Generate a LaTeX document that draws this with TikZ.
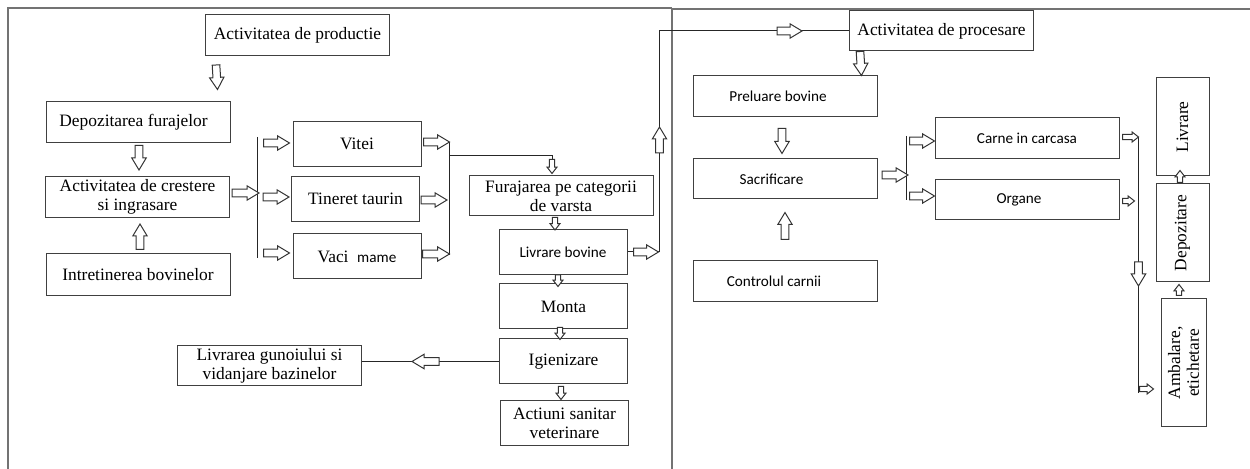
\documentclass[tikz,border=0pt]{standalone}
\usepackage{fontspec}
\setmainfont{Liberation Serif}
\newfontfamily\calibri{Carlito}
\usetikzlibrary{calc}

\tikzset{
  box/.style={draw=black!75, line width=0.5pt, inner sep=0.5pt, align=center,
    font=\fontsize{8.7}{9.4}\selectfont},
  sbox/.style={box, font=\calibri\fontsize{7.6}{9}\selectfont},
  wide/.style={minimum width=92pt, minimum height=20.5pt},
  narrow/.style={minimum width=64pt, minimum height=22.5pt},
  conn/.style={draw=black!85, line width=0.5pt},
  frame/.style={draw=black!55, line width=0.8pt},
  hollow/.style={draw=black!80, fill=white, line width=0.5pt, line join=miter},
  bigarr/.code={\def\shaftw{1.9pt}\def\headw{3.6pt}\def\headl{6pt}},
  smallarr/.code={\def\shaftw{1.3pt}\def\headw{2.5pt}\def\headl{3.2pt}},
}

% hollow block arrow from #2 to #3
\newcommand{\harrow}[3][bigarr]{%
  \draw[hollow,#1] let \p1=(#2), \p2=(#3),
      \n1={atan2(\y2-\y1,\x2-\x1)}, \n2={veclen(\x2-\x1,\y2-\y1)} in
    ($(\p1)+(\n1+90:\shaftw)$) -- ($(\p1)+(\n1:\n2-\headl)+(\n1+90:\shaftw)$)
    -- ($(\p1)+(\n1:\n2-\headl)+(\n1+90:\headw)$) -- (\p2)
    -- ($(\p1)+(\n1:\n2-\headl)+(\n1-90:\headw)$)
    -- ($(\p1)+(\n1:\n2-\headl)+(\n1-90:\shaftw)$)
    -- ($(\p1)+(\n1-90:\shaftw)$) -- cycle;}

\begin{document}
\begin{tikzpicture}[x=0.5pt, y=-0.5pt]
\useasboundingbox (0,0) rectangle (1250,469);

% frame
\draw[frame] (8,469) -- (8,8) -- (672,8);
\draw[frame] (672,469) -- (672,8);
\draw[frame] (672,9) -- (1250,9);

% production side
\node[box,wide] (prod) at (297.5,35) {Activitatea de productie};
\node[box,wide] (dep) at (138,122.5) {Depozitarea furajelor\hspace{4.5pt}};
\node[box,wide] (crest) at (137.5,197) {Activitatea de crestere\\si ingrasare};
\node[box,wide,minimum height=21pt] (intr) at (138,275) {Intretinerea bovinelor};
\node[box,narrow] (vitei) at (357,144) {Vitei};
\node[box,narrow] (tineret) at (355.5,199) {Tineret taurin};
\node[box,narrow] (vaci) at (357,256.5) {Vaci\ \ {\calibri\fontsize{7.6}{9}\selectfont mame}};
\node[box,wide,minimum height=20pt] (fur) at (561,196) {Furajarea pe categorii\\de varsta};
\node[sbox,narrow] (livb) at (563,252) {Livrare bovine};
\node[box,narrow] (monta) at (563.5,306.5) {Monta};
\node[box,narrow] (igien) at (563.5,361.5) {Igienizare};
\node[box,narrow] (actiuni) at (564.5,423.5) {Actiuni sanitar\\veterinare};
\node[box,wide,minimum height=20pt] (gunoi) at (269.5,366) {Livrarea gunoiului si\\vidanjare bazinelor};

% processing side
\node[box,wide,minimum height=20pt] (proc) at (941.5,31) {Activitatea de procesare};
\node[sbox,wide] (prel) at (785,96.5) {Preluare bovine\hspace{7pt}};
\node[sbox,wide,minimum height=20pt] (sacr) at (785.5,179) {Sacrificare\hspace{14pt}};
\node[sbox,wide] (contr) at (785,281.5) {Controlul carnii\hspace{11pt}};
\node[sbox,wide] (carne) at (1027,138.5) {Carne in carcasa};
\node[sbox,wide,minimum height=20pt] (organe) at (1027,200) {Organe\hspace{8pt}};
\node[box,rotate=90,minimum width=49pt,minimum height=26.5pt] (livr) at (1182.5,127) {Livrare};
\node[box,rotate=90,minimum width=49pt,minimum height=26.5pt] (depoz) at (1182.5,233) {Depozitare};
\node[box,rotate=90,minimum width=64pt,minimum height=22.5pt] (ambal) at (1183.5,363) {Ambalare,\\etichetare};

% lines
\draw[conn] ($(vitei.west)+(-35,-7)$) -- ($(vaci.west)+(-35,1.5)$);
\draw[conn] ($(vitei.east)+(28,-2)$) -- ($(vaci.east)+(28,-1.5)$);
\draw[conn] ($(vitei.east)+(28,12)$) -| ($(fur.north)+(-9,-16)$);
\draw[conn] (livb.east) -- ++(32,0) |- (proc.west);
\draw[conn] (igien.west) -- (igien.west -| gunoi.east);
\draw[conn] ($(carne.west)+(-28,-2.5)$) -- ($(organe.west)+(-28,0)$);
\draw[conn] ($(carne.east)+(19,-1.5)$) -- ++(0,256);

% arrows
\harrow{$(prod.south west)+(11,9)$}{$(dep.north east)+(-13,-12)$}
\harrow{$(dep.south)+(1,2)$}{$(crest.north)+(1.5,-6)$}
\harrow{$(intr.north)+(2,-4)$}{$(crest.south)+(2.5,6)$}
\harrow{$(crest.east)+(2,-4)$}{$(crest.east)+(29,-4)$}
\harrow{$(vitei.west)+(-29,-1)$}{$(vitei.west)+(-3,-1)$}
\harrow{$(tineret.west)+(-28,-2)$}{$(tineret.west)+(-2,-2)$}
\harrow{$(vaci.west)+(-29,-3.5)$}{$(vaci.west)+(-3,-3.5)$}
\harrow{$(vitei.east)+(2,-2)$}{$(vitei.east)+(28,-2)$}
\harrow{$(tineret.east)+(1,1)$}{$(tineret.east)+(27,1)$}
\harrow{$(vaci.east)+(1,-2.5)$}{$(vaci.east)+(28,-2.5)$}
\harrow[smallarr]{$(fur.north)+(-9,-16)$}{$(fur.north)+(-9,-2)$}
\harrow[smallarr]{$(fur.south)+(-6,1)$}{$(livb.north)+(-8,1)$}
\harrow[smallarr]{$(livb.south)+(-5,0)$}{$(monta.north)+(-5.5,3)$}
\harrow[smallarr]{$(monta.south)+(-3.5,-2)$}{$(igien.north)+(-3.5,1)$}
\harrow[smallarr]{$(igien.south)+(-2.5,2)$}{$(actiuni.north)+(-3.5,-1)$}
\harrow{$(igien.west)+(-60,0)$}{$(igien.west)+(-87,0)$}
\harrow{$(livb.east)+(6,0)$}{$(livb.east)+(31,0)$}
\harrow{$(livb.east)+(32,-99)$}{$(livb.east)+(32,-125)$}
\harrow{$(proc.west)+(-72,0)$}{$(proc.west)+(-47,0)$}
\harrow{$(proc.south west)+(11,0)$}{$(prel.north east)+(-16,0)$}
\harrow{$(prel.south)+(-3,11)$}{$(sacr.north)+(-3.5,-5)$}
\harrow{$(contr.north)+(0,-21)$}{$(sacr.south)+(-0.5,13)$}
\harrow{$(sacr.east)+(4,-4)$}{$(sacr.east)+(30,-4)$}
\harrow{$(carne.west)+(-25,2.5)$}{$(carne.west)+(0,2.5)$}
\harrow{$(organe.west)+(-25,-4)$}{$(organe.west)+(0,-4)$}
\harrow[smallarr]{$(carne.east)+(3,-1.5)$}{$(carne.east)+(19,-1.5)$}
\harrow[smallarr]{$(organe.east)+(3,1)$}{$(organe.east)+(15,1)$}
\harrow{$(carne.east)+(19,123.5)$}{$(carne.east)+(19,147.5)$}
\harrow[smallarr]{$(ambal.north)+(-21,26)$}{$(ambal.north)+(-7,26)$}
\harrow[smallarr]{$(ambal.east)+(-4.5,-3)$}{$(depoz.west)+(-3.5,2)$}
\harrow[smallarr]{$(depoz.east)+(-2.5,-1)$}{$(livr.west)+(-2.5,-6)$}
\end{tikzpicture}
\end{document}
